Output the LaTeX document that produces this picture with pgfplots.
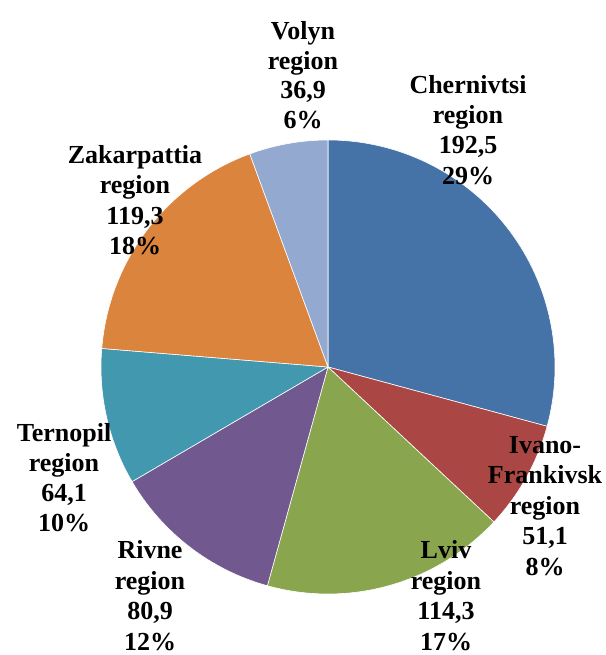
\documentclass[border=0pt]{standalone}
\usepackage{fontspec}
\setmainfont{Liberation Serif}
\usepackage{pgfplots}
\pgfplotsset{compat=1.18}
\definecolor{cA}{HTML}{4572A7}
\definecolor{cB}{HTML}{AA4643}
\definecolor{cC}{HTML}{89A54E}
\definecolor{cD}{HTML}{71588F}
\definecolor{cE}{HTML}{4198AF}
\definecolor{cF}{HTML}{DB843D}
\definecolor{cG}{HTML}{93A9CF}
\newcommand{\lbl}[3]{\node[anchor=base, inner sep=0pt, font=\fontsize{26}{30}\selectfont\bfseries] at (axis cs:#1,#2) {#3};}
\begin{document}
\begin{tikzpicture}
\begin{axis}[hide axis, scale only axis, width=605pt, height=655pt,
  xmin=0, xmax=605, ymin=0, ymax=655, clip=false]
\addplot[draw=none] coordinates {(0,0) (605,655)};
\pgfplotsextra{
  \xdef\ang{90}
  \foreach \v/\c in {192.5/cA, 51.1/cB, 114.3/cC, 80.9/cD, 64.1/cE, 119.3/cF, 36.9/cG}{
    \pgfmathsetmacro\newang{\ang - \v/659.1*360}
    \fill[\c, draw=white, line width=0.6pt] (axis cs:328,288) -- ++(\ang:227pt) arc[start angle=\ang, end angle=\newang, radius=227pt] -- cycle;
    \xdef\ang{\newang}
  }
}
% Volyn
\lbl{303}{615}{Volyn}
\lbl{303}{585.5}{region}
\lbl{303}{556}{36,9}
\lbl{303}{526.5}{6\%}
% Chernivtsi
\lbl{468}{561.7}{Chernivtsi}
\lbl{468}{531.5}{region}
\lbl{468}{501}{192,5}
\lbl{468}{470.5}{29\%}
% Zakarpattia
\lbl{135}{491.7}{Zakarpattia}
\lbl{135}{461}{region}
\lbl{135}{430.5}{119,3}
\lbl{135}{400}{18\%}
% Ternopil
\lbl{64}{213.3}{Ternopil}
\lbl{64}{183}{region}
\lbl{64}{153}{64,1}
\lbl{64}{123}{10\%}
% Rivne
\lbl{150}{96}{Rivne}
\lbl{150}{65.5}{region}
\lbl{150}{35}{80,9}
\lbl{150}{4.5}{12\%}
% Lviv
\lbl{446}{96}{Lviv}
\lbl{446}{65.5}{region}
\lbl{446}{35}{114,3}
\lbl{446}{4.5}{17\%}
% Ivano-Frankivsk
\lbl{545}{201.7}{Ivano-}
\lbl{545}{171}{Frankivsk}
\lbl{545}{140.5}{region}
\lbl{545}{110}{51,1}
\lbl{545}{79.5}{8\%}
\end{axis}
\end{tikzpicture}
\end{document}
